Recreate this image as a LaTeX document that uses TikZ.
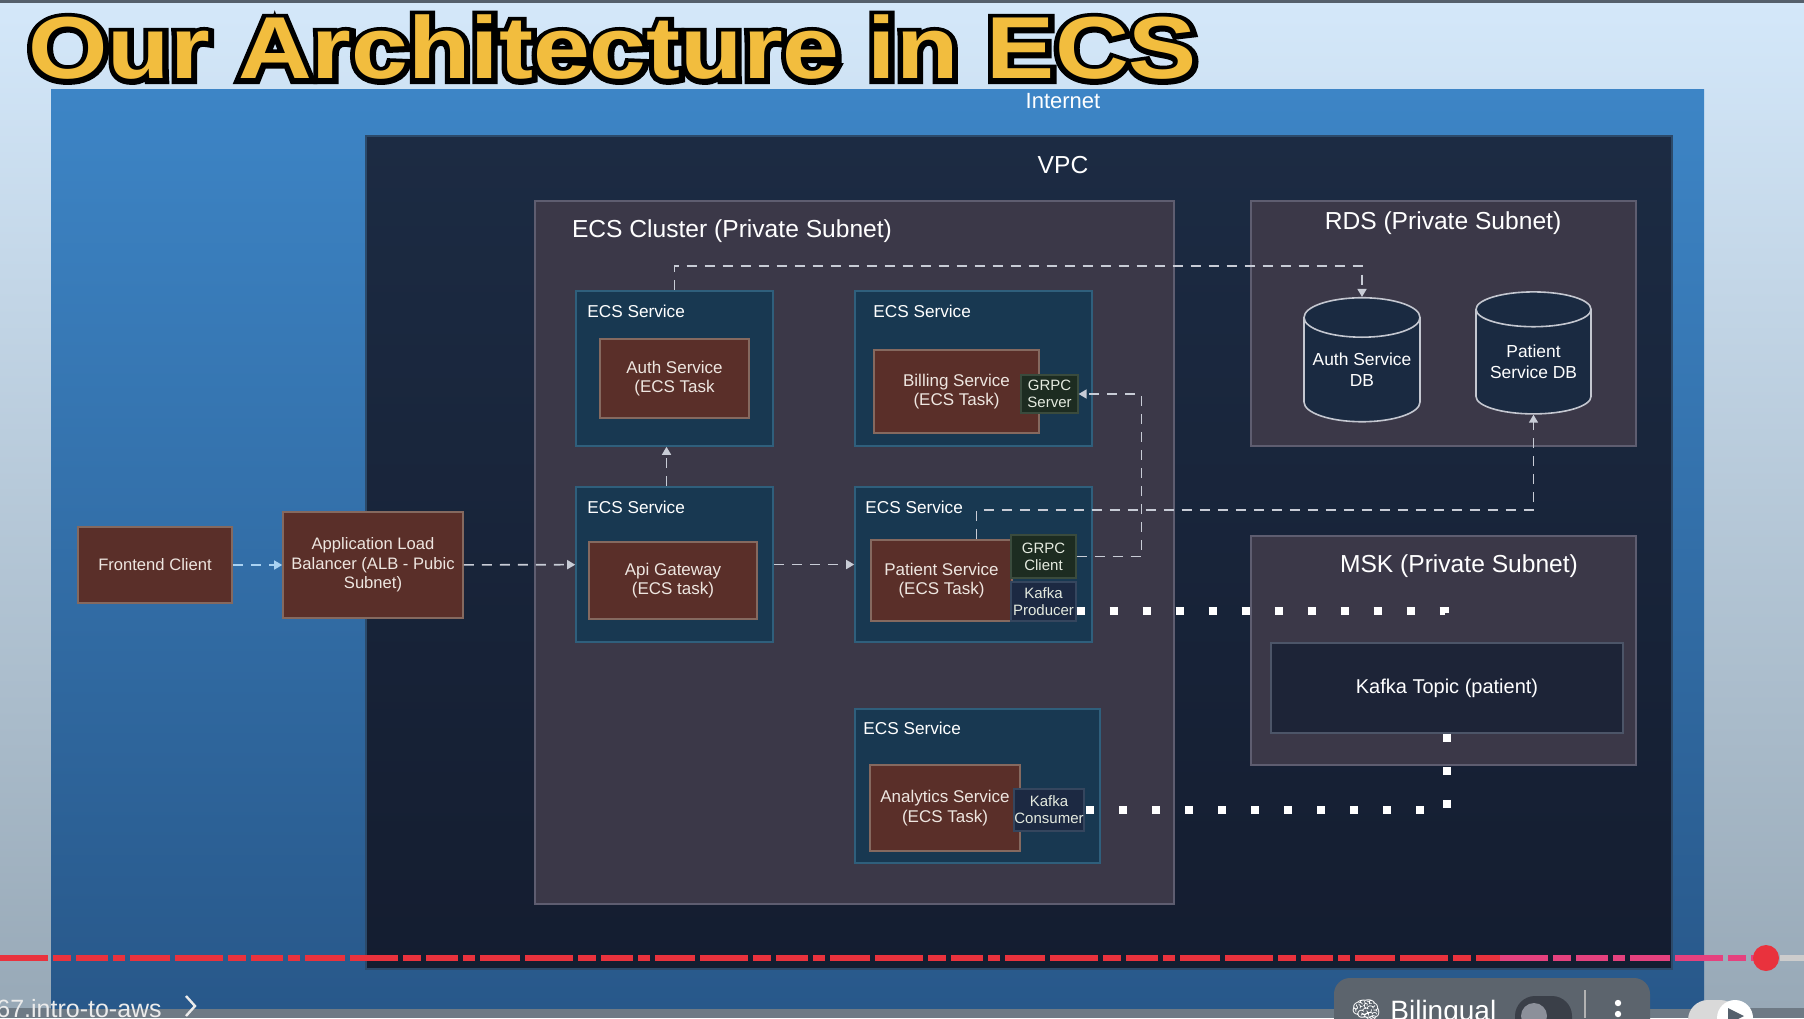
\documentclass[tikz,border=0pt]{standalone}
\usepackage{fontspec}
\setmainfont{Liberation Sans}
\newfontfamily\emojifont{Noto Emoji}
\newfontfamily\titleoutline{Liberation Sans Bold}[FakeBold=11]
\usetikzlibrary{positioning,shapes.geometric,arrows.meta}

\definecolor{pagebg}{HTML}{D4E8FA}
\definecolor{pagefoot}{HTML}{98A9B7}
\definecolor{topline}{HTML}{55606C}
\definecolor{footgray}{HTML}{6E7A85}
\definecolor{netblue}{HTML}{3D85C6}
\definecolor{netdeep}{HTML}{28588A}
\definecolor{vpctop}{HTML}{1C2B43}
\definecolor{vpcbottom}{HTML}{141D30}
\definecolor{vpcedge}{HTML}{2C4A6A}
\definecolor{subnetgray}{HTML}{3B3848}
\definecolor{subnetline}{HTML}{5E5D70}
\definecolor{svcteal}{HTML}{183851}
\definecolor{svcline}{HTML}{2F5F7C}
\definecolor{taskbrown}{HTML}{5A2F29}
\definecolor{taskline}{HTML}{85695F}
\definecolor{tasktext}{HTML}{EEE6E0}
\definecolor{grpcgreen}{HTML}{1D2C21}
\definecolor{grpcline}{HTML}{3A4B3D}
\definecolor{kafkanavy}{HTML}{1C2942}
\definecolor{kafkaline}{HTML}{35465E}
\definecolor{porttext}{HTML}{E4EADF}
\definecolor{topicnavy}{HTML}{1D2437}
\definecolor{topicline}{HTML}{4C5568}
\definecolor{dbnavy}{HTML}{1A2A41}
\definecolor{dbline}{HTML}{C4C7D0}
\definecolor{linkgray}{HTML}{C8CCD6}
\definecolor{linkblue}{HTML}{A9D2F2}
\definecolor{titlegold}{HTML}{F2BD3E}
\definecolor{ytred}{HTML}{E9323D}
\definecolor{ytpink}{HTML}{E5417E}
\definecolor{pillgray}{HTML}{5C646D}
\definecolor{toggledark}{HTML}{3A3F48}
\definecolor{knobgray}{HTML}{8C909A}

\begin{document}
\begin{tikzpicture}[x=0.5pt,y=-0.5pt,
  panel/.style={rectangle,inner sep=0pt,align=center,text=white},
  zonebox/.style={panel,draw=subnetline,fill=subnetgray,line width=0.9pt},
  svcbox/.style={panel,draw=svcline,fill=svcteal,line width=0.8pt},
  taskbox/.style={panel,draw=taskline,fill=taskbrown,line width=0.8pt,text=tasktext,font=\fontsize{8.5}{9.8}\selectfont},
  grpcport/.style={panel,draw=grpcline,fill=grpcgreen,line width=0.6pt,text=porttext,font=\fontsize{7.5}{8.6}\selectfont},
  kafkaport/.style={grpcport,draw=kafkaline,fill=kafkanavy},
  dbcyl/.style={cylinder,shape border rotate=90,aspect=0.4,draw=dbline,fill=dbnavy,line width=0.8pt,inner sep=0pt,align=center,text=white,font=\fontsize{8.7}{10.4}\selectfont},
  zonetitle/.style={inner sep=0pt,text=white,font=\fontsize{12.3}{14}\selectfont},
  svctitle/.style={inner sep=0pt,anchor=west,text=white,font=\fontsize{8.6}{10}\selectfont},
  titletext/.style={inner sep=0pt,anchor=base west,xscale=1.16,font=\fontsize{44}{50}\selectfont\bfseries},
  link/.style={draw=linkgray,line width=0.8pt,dash pattern=on 5pt off 4pt,-{Triangle[width=4.5pt,length=4pt]}},
  stream/.style={draw=white,line width=4pt,dash pattern=on 4pt off 12.5pt},
  barline/.style={line width=3pt,dash pattern=on 24pt off 2.5pt on 9pt off 2.5pt on 16pt off 2.5pt on 6pt off 2.5pt on 20pt off 2.5pt}]
  \useasboundingbox (0,0) rectangle (1804,1018);
  \clip (0,0) rectangle (1804,1018);

  % page and video frame
  \shade[top color=pagebg,middle color=pagebg,bottom color=pagefoot] (0,0) rectangle (1804,1008);
  \fill[topline] (0,0) rectangle (1804,3);
  \fill[footgray] (0,1008) rectangle (1804,1018);

  % title
  \node[titletext,text=black,font=\fontsize{44}{50}\selectfont\titleoutline,yshift=-0.6pt] (titleback) at (28,78) {Our Architecture in ECS};
  \node[titletext,text=titlegold] (title) at (28,78) {Our Architecture in ECS};

  % nested zones
  \node[panel,minimum width=826.5pt,minimum height=459.5pt,top color=netblue,middle color=netblue!92!netdeep,bottom color=netdeep] (internet) at (877.5,548.5) {};
  \node[zonetitle,font=\fontsize{11}{13}\selectfont] (internettitle) at (1063,101) {Internet};
  \node[panel,minimum width=653pt,minimum height=416.5pt,top color=vpctop,bottom color=vpcbottom,draw=vpcedge,line width=0.6pt] (vpc) at (1019,552.5) {};
  \node[zonetitle] (vpctitle) at (1063,165) {VPC};
  \node[zonebox,minimum width=319.5pt,minimum height=351.5pt] (cluster) at (854.5,552.5) {};
  \node[zonetitle] (clustertitle) at (732,231) {ECS Cluster (Private Subnet)};
  \node[zonebox,minimum width=192.5pt,minimum height=122.5pt] (rds) at (1443.5,323.5) {};
  \node[zonetitle] (rdstitle) at (1443,223) {RDS (Private Subnet)};
  \node[zonebox,minimum width=192.5pt,minimum height=114.5pt] (msk) at (1443.5,650.5) {};
  \node[zonetitle] (msktitle) at (1459,566) {MSK (Private Subnet)};
  \node[panel,draw=topicline,fill=topicnavy,line width=0.8pt,minimum width=176pt,minimum height=45pt,font=\fontsize{10}{12}\selectfont] (topic) at (1447,688) {Kafka Topic (patient)};

  % databases
  \node[dbcyl,minimum width=58pt,minimum height=62pt] (authdb) at (1362,370) {Auth Service\\DB};
  \node[dbcyl,minimum width=57.5pt,minimum height=61pt] (patdb) at (1533.5,362) {Patient\\Service DB};

  % ECS services
  \node[svcbox,minimum width=98.5pt,minimum height=77.5pt] (authsvc) at (674.5,368.5) {};
  \node[svctitle] (authsvctitle) at (587,311) {ECS Service};
  \node[svcbox,minimum width=118.5pt,minimum height=77.5pt] (billsvc) at (973.5,368.5) {};
  \node[svctitle] (billsvctitle) at (873,311) {ECS Service};
  \node[svcbox,minimum width=98.5pt,minimum height=77.5pt] (apisvc) at (674.5,564.5) {};
  \node[svctitle] (apisvctitle) at (587,507) {ECS Service};
  \node[svcbox,minimum width=118.5pt,minimum height=77.5pt] (patsvc) at (973.5,564.5) {};
  \node[svctitle] (patsvctitle) at (865,507) {ECS Service};
  \node[svcbox,minimum width=122.5pt,minimum height=77pt] (anasvc) at (977.5,786) {};
  \node[svctitle] (anasvctitle) at (863,728) {ECS Service};

  % tasks and ports
  \node[taskbox,minimum width=74.5pt,minimum height=39.5pt] (authtask) at (674.5,378.5) {Auth Service\\(ECS Task};
  \node[taskbox,minimum width=82.5pt,minimum height=41.5pt] (billtask) at (956.5,391.5) {Billing Service\\(ECS Task)};
  \node[grpcport,minimum width=28.5pt,minimum height=19pt] (grpcsrv) at (1049.5,394) {GRPC\\Server};
  \node[taskbox,minimum width=84pt,minimum height=38.5pt] (apitask) at (673,580.5) {Api Gateway\\(ECS task)};
  \node[taskbox,minimum width=70.5pt,minimum height=40.5pt] (pattask) at (941.5,580.5) {Patient Service\\(ECS Task)};
  \node[grpcport,minimum width=32.5pt,minimum height=21.5pt] (grpccli) at (1043.5,556.5) {GRPC\\Client};
  \node[kafkaport,minimum width=32.5pt,minimum height=19.5pt] (kprod) at (1043.5,601.5) {Kafka\\Producer};
  \node[taskbox,minimum width=75pt,minimum height=43pt] (anatask) at (945,808) {Analytics Service\\(ECS Task)};
  \node[kafkaport,minimum width=35pt,minimum height=21pt] (kcons) at (1049,810) {Kafka\\Consumer};

  % public side
  \node[taskbox,minimum width=77pt,minimum height=38pt,font=\fontsize{8.3}{9.8}\selectfont] (frontend) at (155,565) {Frontend Client};
  \node[taskbox,minimum width=90pt,minimum height=53pt,font=\fontsize{8.3}{9.8}\selectfont] (alb) at (373,565) {Application Load\\Balancer (ALB - Pubic\\Subnet)};

  % request links
  \draw[link,draw=linkblue] (frontend) -- (alb);
  \draw[link] (alb) -- (apisvc);
  \draw[link] (apisvc) -- (patsvc);
  \draw[link] ([xshift=-4pt]apisvc.north) -- ([xshift=-4pt]authsvc.south);
  \draw[link] (authsvc.north) -- ++(0,-24) -| (authdb.north);
  \draw[link] (grpccli.east) -- ++(65,0) |- (grpcsrv.east);
  \draw[link] ([xshift=17.5pt]pattask.north) -- ++(0,-29) -| (patdb.south);

  % kafka streams
  \coordinate (streamend) at (1445,624);
  \draw[stream] ([yshift=-4.5pt]kprod.east) -| (streamend);
  \draw[stream] (topic.south) |- (kcons.east);

  % video player overlay
  \draw[barline,ytred] (0,958) -- (1500,958);
  \draw[barline,ytpink] (1500,958) -- (1766,958);
  \draw[line width=3pt,gray!40] (1780,958) -- (1804,958);
  \fill[ytred] (1766,958) circle[radius=6.5pt];
  \node[anchor=base west,inner sep=0pt,text=white!92!black,font=\fontsize{12.5}{14}\selectfont] (chapter) at (-4,1017) {67.intro-to-aws};
  \draw[white!92!black,line width=1.2pt] (186,996) -- (195,1006) -- (186,1016);
  \fill[pillgray,rounded corners=8pt] (1334,978) rectangle (1650,1050);
  \node[inner sep=0pt,text=white,font=\fontsize{12}{14}\selectfont] (brain) at (1366,1010) {\emojifont 🧠};
  \node[anchor=base west,inner sep=0pt,text=white,font=\fontsize{14}{16}\selectfont] (bilingual) at (1390,1020) {Bilingual};
  \fill[toggledark,rounded corners=10pt] (1515,996) rectangle (1572,1050);
  \fill[knobgray] (1534,1016) circle[radius=6.5pt];
  \draw[gray!60,line width=0.6pt] (1585,990) -- (1585,1018);
  \fill[white] (1618,1003) circle[radius=1.6pt];
  \fill[white] (1618,1014) circle[radius=1.6pt];
  \fill[gray!30,rounded corners=10pt] (1688,1000) rectangle (1740,1050);
  \fill[white] (1735,1018) circle[radius=9pt];
  \fill[topline] (1728,1008) -- (1744,1016) -- (1728,1024) -- cycle;
\end{tikzpicture}
\end{document}
